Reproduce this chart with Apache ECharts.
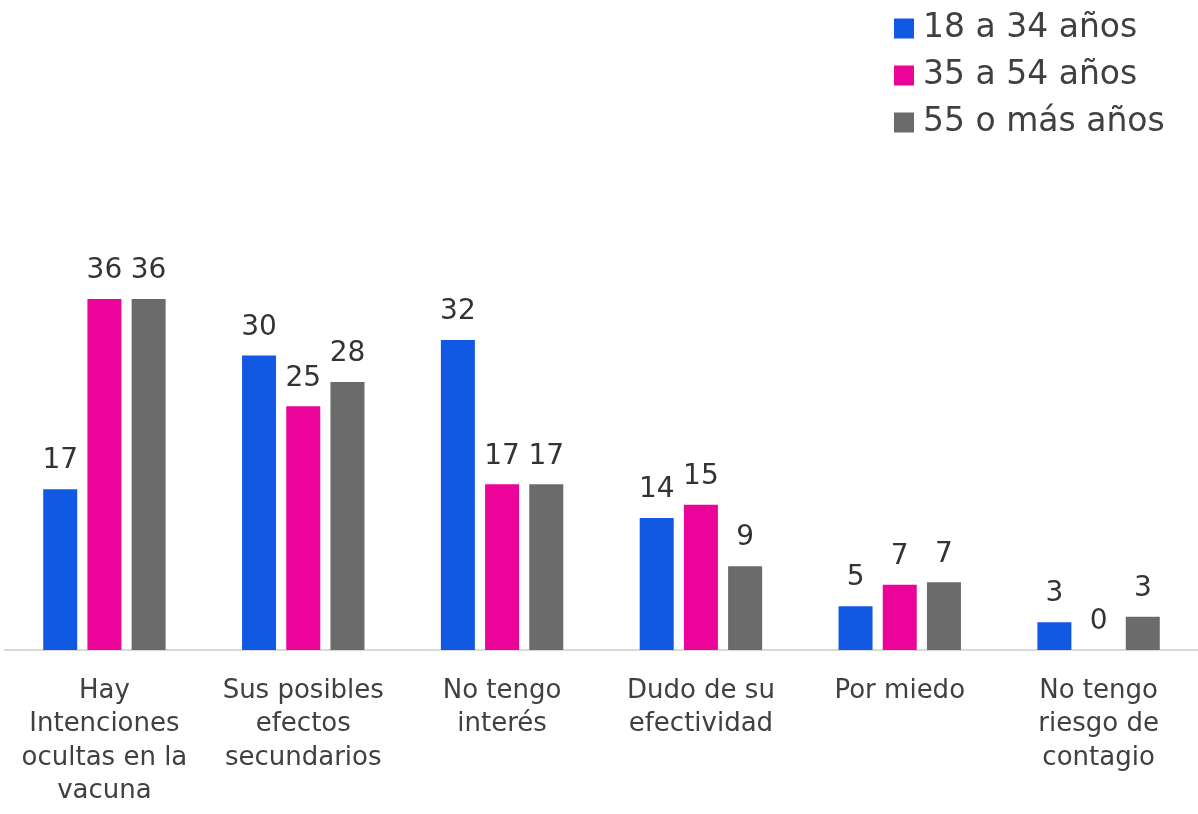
<!DOCTYPE html>
<html>
<head>
<meta charset="utf-8">
<script src="https://cdn.jsdelivr.net/npm/echarts@6/dist/echarts.min.js"></script>
<style>
  html, body { margin: 0; padding: 0; background: #fff; }
  #grafico { width: 1198px; height: 814px; }
</style>
</head>
<body>
<div id="grafico"></div>
<script>
// razones para no vacunarse, por edad (%)
const categorias = [
    "Hay\nIntenciones\nocultas en la\nvacuna",
    "Sus posibles\nefectos\nsecundarios",
    "No tengo\ninterés",
    "Dudo de su\nefectividad",
    "Por miedo",
    "No tengo\nriesgo de\ncontagio"
];
const series18a34 = [16.5, 30.2, 31.8, 13.55, 4.5, 2.85];
const series35a54 = [36, 25, 17, 14.9, 6.7, 0];
const series55mas = [36, 27.5, 17, 8.6, 6.95, 3.4];
const nombres = ["18 a 34 años", "35 a 54 años", "55 o más años"];
const colores = ["#1158E3", "#EC0399", "#6B6B6B"];

const fuente = "DejaVu Sans";
const colorTexto = "#404040";

const chart = echarts.init(document.getElementById('grafico'));

const serie = (nombre, datos, color) => ({
    name: nombre,
    type: "bar",
    data: datos,
    barWidth: 34,
    barGap: "30%",
    itemStyle: { color: color },
    label: {
        show: true,
        position: "top",
        distance: 14,
        color: "#333333",
        fontFamily: fuente,
        fontSize: 28,
        formatter: p => Math.round(p.value)
    }
});

chart.setOption({
    animation: false,
    color: colores,
    legend: {
        orient: "vertical",
        left: 894,
        top: 12,
        padding: 0,
        itemWidth: 20,
        itemHeight: 20,
        itemGap: 14,
        icon: "rect",
        textStyle: {
            fontFamily: fuente, fontSize: 33, color: colorTexto,
            lineHeight: 33, padding: [0, 0, 0, 4]
        }
    },
    grid: { left: 5, right: 0, top: 260, bottom: 164, containLabel: false },
    xAxis: {
        type: "category",
        data: categorias,
        axisLine: { lineStyle: { color: "#D9D9D9", width: 2 } },
        axisTick: { show: false },
        axisLabel: {
            interval: 0,
            margin: 24,
            fontFamily: fuente,
            fontSize: 26,
            lineHeight: 33.5,
            color: colorTexto
        }
    },
    yAxis: {
        type: "value",
        min: 0,
        max: 40,
        show: false,
        splitLine: { show: false }
    },
    series: [
        serie(nombres[0], series18a34, colores[0]),
        serie(nombres[1], series35a54, colores[1]),
        serie(nombres[2], series55mas, colores[2])
    ]
});
</script>
</body>
</html>
